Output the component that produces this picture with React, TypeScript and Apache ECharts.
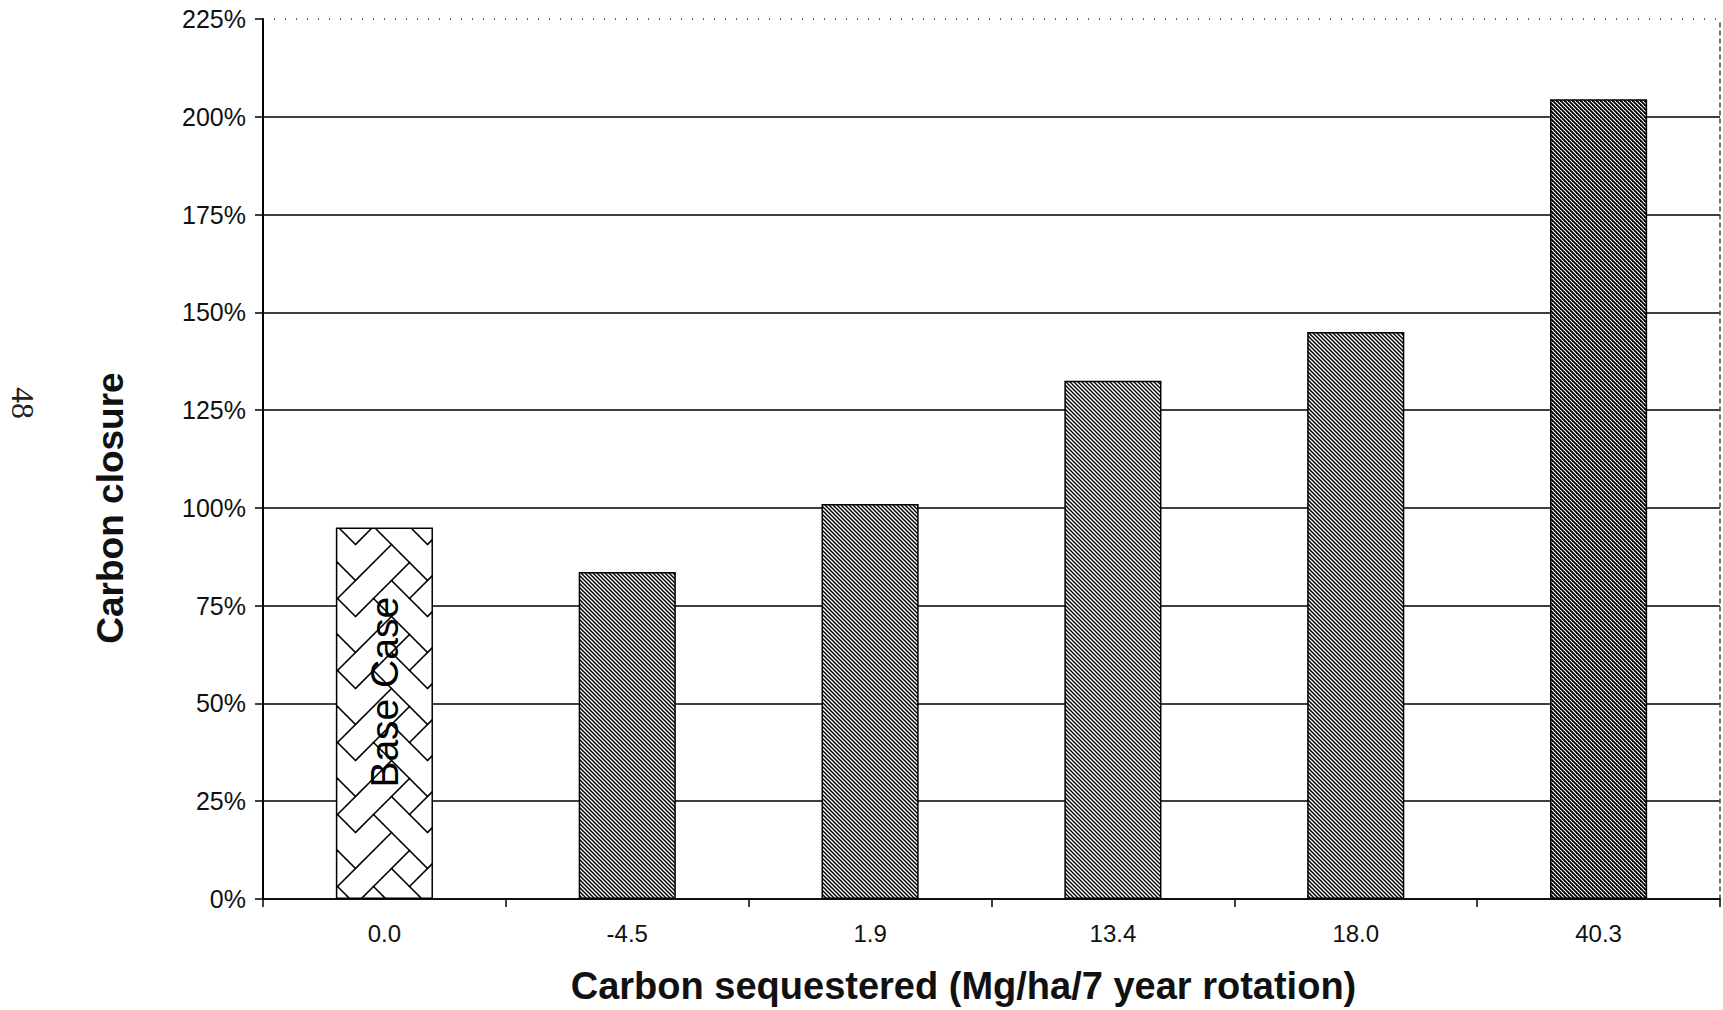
import React, { useEffect, useRef } from 'react';
import * as echarts from 'echarts';

// ---- data ----
const categories = ['0.0', '-4.5', '1.9', '13.4', '18.0', '40.3'];
const closurePct = [95, 83.6, 101, 132.5, 145, 204.5];
const baseCaseLabel = 'Base Case';
const xTitle = 'Carbon sequestered (Mg/ha/7 year rotation)';
const yTitle = 'Carbon closure';
const pageNumber = '48';

// ---- styles ----
const FONT = '"Liberation Sans", Arial, sans-serif';
const hatchWidths = [0, 1.5, 1.5, 1.3, 1.5, 1.8]; // darkness of the stipple per bar (index 0 uses weave)
const weaveBits = [0x11, 0x2a, 0x44, 0xa2, 0x11, 0x28, 0x44, 0x8a];

function weaveCanvas(): HTMLCanvasElement {
  const cell = 9;
  const n = 8;
  const S = cell * n;
  const c = document.createElement('canvas');
  c.width = S;
  c.height = S;
  const ctx = c.getContext('2d')!;
  ctx.fillStyle = '#ffffff';
  ctx.fillRect(0, 0, S, S);
  ctx.strokeStyle = '#000000';
  ctx.lineWidth = 1.6;
  ctx.lineCap = 'round';
  const on = (r: number, col: number) => {
    const rr = ((r % n) + n) % n;
    const cc = ((col % n) + n) % n;
    return (weaveBits[rr] >> (7 - cc)) & 1;
  };
  for (let r = 0; r < n; r++) {
    for (let col = 0; col < n; col++) {
      if (!on(r, col)) continue;
      for (const dc of [1, -1]) {
        if (!on(r + 1, col + dc)) continue;
        for (const ox of [-S, 0, S]) {
          for (const oy of [-S, 0, S]) {
            ctx.beginPath();
            ctx.moveTo((col + 0.5) * cell + ox, (r + 0.5) * cell + oy);
            ctx.lineTo((col + dc + 0.5) * cell + ox, (r + 1.5) * cell + oy);
            ctx.stroke();
          }
        }
      }
    }
  }
  return c;
}

function hatchCanvas(lw: number): HTMLCanvasElement {
  const S = 4;
  const c = document.createElement('canvas');
  c.width = S;
  c.height = S;
  const ctx = c.getContext('2d')!;
  ctx.fillStyle = '#ffffff';
  ctx.fillRect(0, 0, S, S);
  ctx.strokeStyle = '#000000';
  ctx.lineWidth = lw;
  for (let k = -1; k <= 1; k++) {
    ctx.beginPath();
    ctx.moveTo(k * S - 1, -1);
    ctx.lineTo(k * S + S + 1, S + 1);
    ctx.stroke();
  }
  return c;
}

export default function App() {
  const ref = useRef<HTMLDivElement>(null);
  useEffect(() => {
    if (!ref.current) return;
    const chart = echarts.init(ref.current, undefined, { renderer: 'svg' });
    const fills = closurePct.map((_, i) => {
      const img = i === 0 ? weaveCanvas() : hatchCanvas(hatchWidths[i]);
      return {
        image: img,
        repeat: 'repeat',
        imageWidth: img.width,
        imageHeight: img.height,
      } as any;
    });
    const option: any = {
      animation: false,
      backgroundColor: '#ffffff',
      grid: { left: 263, right: 3, top: 19, bottom: 111, containLabel: false },
      xAxis: {
        type: 'category',
        data: categories,
        axisLine: { lineStyle: { color: '#000', width: 1.5 } },
        axisTick: { show: true, alignWithLabel: false, length: 8, lineStyle: { color: '#000', width: 1.5 } },
        axisLabel: { color: '#111', fontSize: 24, fontFamily: FONT, margin: 22 },
        name: xTitle,
        nameLocation: 'middle',
        nameGap: 68,
        nameTextStyle: {
          fontSize: 38,
          fontWeight: 'bold',
          fontFamily: FONT,
          color: '#111',
          padding: [0, 56, 0, 0],
        },
      },
      yAxis: [
        {
          type: 'value',
          min: 0,
          max: 225,
          interval: 25,
          axisLine: { show: true, lineStyle: { color: '#000', width: 2 } },
          axisTick: { show: true, length: 8, lineStyle: { color: '#000', width: 1.5 } },
          axisLabel: { formatter: '{value}%', fontSize: 25, margin: 17, color: '#111', fontFamily: FONT },
          splitLine: { show: true, showMaxLine: false, lineStyle: { color: '#000', width: 1.5 } },
          name: yTitle,
          nameLocation: 'middle',
          nameGap: 134,
          nameTextStyle: {
            fontSize: 37,
            fontWeight: 'bold',
            fontFamily: FONT,
            color: '#111',
            padding: [0, 98, 0, 0],
          },
        },
        {
          type: 'value',
          position: 'right',
          min: 0,
          max: 225,
          interval: 25,
          axisLine: { show: true, lineStyle: { color: '#444', width: 1.5, type: [4, 4] } },
          axisTick: { show: false },
          axisLabel: { show: false },
          splitLine: { show: false },
        },
      ],
      graphic: [
        {
          type: 'text',
          x: 23,
          y: 403,
          rotation: -Math.PI / 2,
          style: {
            text: pageNumber,
            font: '32px "Liberation Serif", serif',
            fill: '#222',
            align: 'center',
            verticalAlign: 'middle',
          },
        },
      ],
      series: [
        {
          type: 'bar',
          barWidth: '40%',
          itemStyle: { borderColor: '#000', borderWidth: 1.5 },
          data: closurePct.map((v, i) => ({
            value: v,
            itemStyle: { color: fills[i] },
            label:
              i === 0
                ? {
                    show: true,
                    position: 'inside',
                    rotate: 90,
                    formatter: baseCaseLabel,
                    fontSize: 39,
                    fontFamily: FONT,
                    color: '#000',
                    textBorderWidth: 0,
                    offset: [21, 0],
                  }
                : { show: false },
          })),
          markLine: {
            silent: true,
            symbol: 'none',
            label: { show: false },
            lineStyle: { color: '#333', width: 1.5, type: [1, 10] },
            data: [{ yAxis: 225 }],
          },
        },
      ],
    };
    chart.setOption(option);
    return () => chart.dispose();
  }, []);
  return (
    <div
      ref={ref}
      style={{ position: 'absolute', left: 0, top: 0, width: 1723, height: 1010 }}
    />
  );
}
